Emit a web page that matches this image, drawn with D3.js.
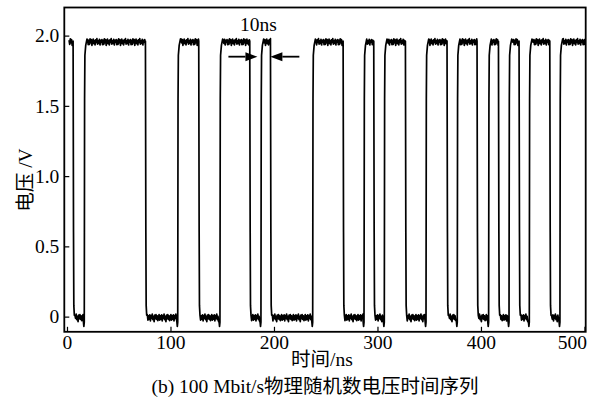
<!DOCTYPE html>
<html>
<head>
<meta charset="utf-8">
<script src="https://cdn.jsdelivr.net/npm/d3@7"></script>
<style>
  body { margin: 0; background: #fff; }
  svg text { font-family: "Liberation Serif", "Noto Sans CJK SC", serif; fill: #000; }
</style>
</head>
<body>
<svg id="chart" width="593" height="400"></svg>
<script>
// tick values / labels
const xTicks = [0, 100, 200, 300, 400, 500];
const yTicks = [0, 0.5, 1.0, 1.5, 2.0];
const yTickLabels = ['0', '0.5', '1.0', '1.5', '2.0'];

// transition times (ns), starting from the high level
const edgeTimes = [6.1, 16.7, 76.0, 107.0, 127.5, 147.8, 176.8, 187.4, 196.8, 237.4,
    267.0, 287.0, 296.6, 306.6, 327.2, 346.9, 367.4, 377.1, 396.4, 407.4,
    417.1, 427.1, 437.0, 446.7, 466.7, 476.3];
const traceSpan = [2.0, 501.0];
const levels = [0.0, 1.955]; // low, high (V)

// edge shapes: [offset ns, volts]
const riseShape = [[-0.9, -0.03], [-0.4, -0.07], [0, -0.04], [0.3, 1.55], [0.6, 1.86], [1.4, 1.93], [2.6, 1.975]];
const fallShape = [[-0.2, 1.96], [0.2, 0.6], [0.5, 0.08], [1.0, 0.01]];

const highRipple = [0.012, -0.018, 0.022, -0.006, 0.017, -0.024, 0.004, 0.02, -0.013, 0.009, -0.021, 0.015,
    -0.003, 0.024, -0.016, 0.007, -0.01, 0.019, -0.022, 0.011, -0.002, 0.016, -0.019];
const lowRipple = [-0.01, 0.015, -0.025, 0.005, -0.018, 0.012, -0.03, 0.008, -0.012, 0.018,
    -0.022, 0.002, -0.035, 0.01, -0.015, 0.014, -0.02, 0.006, -0.028];
const rippleStep = 0.6;

// 10ns annotation
const markTips = [184, 196.5];
const markLevel = 1.85;
const markText = '10ns';

const fontSize = 19.5;
const plot = { left: 64.3, right: 585.7, top: 7.5, bottom: 331.8 };

const svg = d3.select('#chart');

const x = d3.scaleLinear().domain([-2.6, 501.2]).range([plot.left, plot.right]);
const y = d3.scaleLinear().domain([-0.108, 2.2]).range([plot.bottom, plot.top]);

// build trace points
const points = [];
let high = true;
let segStart = traceSpan[0];
let k = 0;
const bounds = edgeTimes.concat([traceSpan[1]]);
bounds.forEach((t, i) => {
    const isLast = i === bounds.length - 1;
    const shape = high ? fallShape : riseShape;
    const plateauEnd = isLast ? t : t + shape[0][0];
    const base = high ? levels[1] : levels[0];
    const ripple = high ? highRipple : lowRipple;
    for (let s = segStart; s < plateauEnd; s += rippleStep) {
        points.push([s, base + ripple[k % ripple.length]]);
        k++;
    }
    if (!isLast) {
        shape.forEach(p => points.push([t + p[0], p[1]]));
        segStart = t + shape[shape.length - 1][0] + rippleStep;
        high = !high;
    }
});

const line = d3.line().x(d => x(d[0])).y(d => y(d[1]));

svg.append('path')
    .datum(points)
    .attr('d', line)
    .attr('fill', 'none')
    .attr('stroke', '#000')
    .attr('stroke-width', 1.7)
    .attr('stroke-linejoin', 'round');

// axes
const yAxis = svg.append('g')
    .attr('transform', `translate(${plot.left},0)`)
    .call(d3.axisLeft(y).tickValues(yTicks).tickFormat((d, i) => yTickLabels[i])
        .tickSizeInner(-5).tickSizeOuter(0).tickPadding(5));
yAxis.select('.domain').remove();
yAxis.selectAll('line').attr('stroke-width', 1.2);
yAxis.selectAll('text').attr('font-size', fontSize).attr('font-family', 'Liberation Serif');

const xAxis = svg.append('g')
    .attr('transform', `translate(0,${plot.bottom})`)
    .call(d3.axisBottom(x).tickValues(xTicks).tickFormat(d3.format('d'))
        .tickSizeInner(-5).tickSizeOuter(0).tickPadding(3.5));
xAxis.select('.domain').remove();
xAxis.selectAll('line').attr('stroke-width', 1.2);
xAxis.selectAll('text').attr('font-size', fontSize).attr('font-family', 'Liberation Serif');
xAxis.selectAll('.tick').filter(d => d === 500).select('text')
    .attr('text-anchor', 'end').attr('x', 2);

// frame
svg.append('rect')
    .attr('x', plot.left).attr('y', plot.top)
    .attr('width', plot.right - plot.left).attr('height', plot.bottom - plot.top)
    .attr('fill', 'none').attr('stroke', '#000').attr('stroke-width', 1.8);

// annotation arrows
const arrowLen = 29;
const head = 12, half = 4.5;
const ay = y(markLevel);
[[markTips[0], 1], [markTips[1], -1]].forEach(([t, dir]) => {
    const tip = x(t);
    svg.append('line')
        .attr('x1', tip - dir * arrowLen).attr('x2', tip - dir * head)
        .attr('y1', ay).attr('y2', ay)
        .attr('stroke', '#000').attr('stroke-width', 1.8);
    svg.append('path')
        .attr('d', `M${tip},${ay}L${tip - dir * head},${ay - half}L${tip - dir * head},${ay + half}Z`)
        .attr('fill', '#000');
});
svg.append('text')
    .attr('x', x(markTips[0]) + 1).attr('y', y(2.03))
    .attr('text-anchor', 'middle').attr('font-size', fontSize)
    .text(markText);

// axis titles and caption
svg.append('text')
    .attr('transform', 'translate(25,180) rotate(-90)')
    .attr('text-anchor', 'middle').attr('dy', '0.35em').attr('font-size', fontSize)
    .text('电压 /V');

svg.append('text')
    .attr('x', 322).attr('y', 366)
    .attr('text-anchor', 'middle').attr('font-size', fontSize)
    .text('时间/ns');

svg.append('text')
    .attr('x', 315).attr('y', 393)
    .attr('text-anchor', 'middle').attr('font-size', fontSize)
    .text('(b) 100 Mbit/s物理随机数电压时间序列');
</script>
</body>
</html>
